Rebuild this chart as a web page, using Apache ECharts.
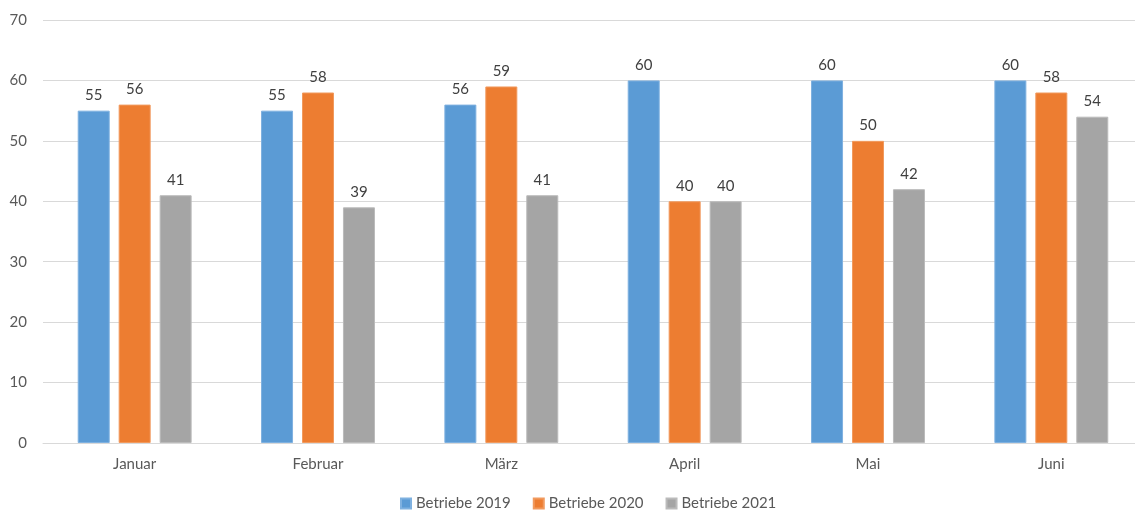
<!DOCTYPE html>
<html>
<head>
<meta charset="utf-8">
<script src="https://cdn.jsdelivr.net/npm/echarts@6/dist/echarts.min.js"></script>
<style>
  html, body { margin: 0; padding: 0; background: #fff; overflow: hidden; }
  /* canvas is a little wider than the window so the plot runs off the right edge */
  #chart { width: 1143px; height: 511px; }
</style>
</head>
<body>
<div id="chart"></div>
<script>
// Monthly number of businesses, January to June, per year
const months = ['Januar', 'Februar', 'März', 'April', 'Mai', 'Juni'];
const betriebe2019 = [55, 55, 56, 60, 60, 60];
const betriebe2020 = [56, 58, 59, 40, 50, 58];
const betriebe2021 = [41, 39, 41, 40, 42, 54];
const seriesNames = ['Betriebe 2019', 'Betriebe 2020', 'Betriebe 2021'];
const colors = ['#5B9BD5', '#ED7D31', '#A5A5A5'];

const font = 'Lato, "Open Sans", sans-serif';

function barSeries(name, data, color, edge) {
  return {
    name: name,
    type: 'bar',
    data: data,
    barWidth: 32,
    barGap: '28%',
    itemStyle: { color: color, borderColor: edge, borderWidth: 1 },
    label: {
      show: true,
      position: 'top',
      distance: 8,
      color: '#404040',
      fontFamily: font,
      fontSize: 15
    }
  };
}

const chart = echarts.init(document.getElementById('chart'));
chart.setOption({
  animation: false,
  color: colors,
  grid: { left: 43, right: 0, top: 20, bottom: 68, containLabel: false },
  legend: {
    top: 491,
    left: 395,
    icon: 'rect',
    itemWidth: 10,
    itemHeight: 10,
    itemGap: 22,
    textStyle: { color: '#595959', fontFamily: font, fontSize: 15 },
    data: seriesNames
  },
  xAxis: {
    type: 'category',
    data: months,
    axisLine: { show: true, lineStyle: { color: '#D9D9D9', width: 1 } },
    axisTick: { show: false },
    axisLabel: { color: '#595959', fontFamily: font, fontSize: 15, margin: 14 }
  },
  yAxis: {
    type: 'value',
    min: 0,
    max: 70,
    interval: 10,
    axisLine: { show: false },
    axisTick: { show: false },
    splitLine: { lineStyle: { color: '#D9D9D9', width: 1 } },
    axisLabel: { color: '#595959', fontFamily: font, fontSize: 15, margin: 16 }
  },
  series: [
    barSeries(seriesNames[0], betriebe2019, colors[0], '#7FB1E0'),
    barSeries(seriesNames[1], betriebe2020, colors[1], '#F19A5E'),
    barSeries(seriesNames[2], betriebe2021, colors[2], '#BBBBBB')
  ]
});
</script>
</body>
</html>
